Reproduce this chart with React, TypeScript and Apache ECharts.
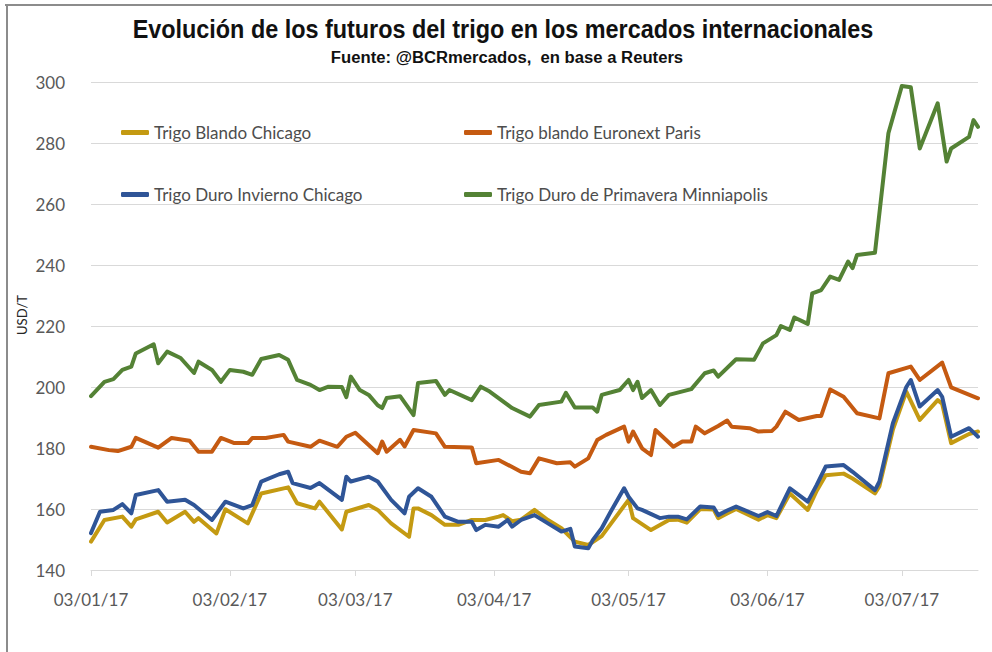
import { useEffect, useRef } from 'react';
import * as echarts from 'echarts';

// ---- Data ----
const titleText = 'Evolución de los futuros del trigo en los mercados internacionales';
const subtitleText = 'Fuente: @BCRmercados,  en base a Reuters';
const yAxisName = 'USD/T';

const tickLabels = ['03/01/17', '03/02/17', '03/03/17', '03/04/17', '03/05/17', '03/06/17', '03/07/17'];
const firstDate = '03/01/17';
const lastDate = '20/07/17';

const seriesNames = [
  'Trigo Blando Chicago',
  'Trigo blando Euronext Paris',
  'Trigo Duro Invierno Chicago',
  'Trigo Duro de Primavera Minniapolis',
];

// days counted from 03/01/17
const blandoChicagoDays = [0, 3, 7, 9, 10, 15, 17, 21, 23, 24, 28, 30, 35, 38, 44, 46, 50, 51, 56, 57, 62, 64, 67, 71, 72, 73, 76, 79, 82, 85, 88, 91, 92, 94, 96, 99, 102, 105, 108, 111, 114, 120, 121, 125, 129, 131, 133, 136, 139, 140, 142, 144, 149, 151, 153, 156, 160, 162, 164, 168, 170, 175, 176, 179, 182, 185, 189, 190, 192, 196, 198];
const blandoChicagoValues = [149.3, 156.4, 157.5, 154.2, 156.6, 159.1, 155.6, 159.1, 155.8, 157, 152, 159.9, 155.3, 165.1, 167.1, 161.9, 160.2, 162.4, 153.3, 159.1, 161.3, 159.7, 155.3, 150.9, 160.2, 160.2, 158, 154.8, 154.8, 156.4, 156.4, 157.5, 158, 156, 156.5, 159.7, 156.4, 153.7, 149.3, 148.2, 151.1, 163, 157, 153.1, 156.4, 156.5, 155.5, 160, 159.8, 157, 158.5, 160, 156.5, 158, 157, 165.1, 159.7, 166, 171.1, 171.6, 170, 165.1, 167.5, 186, 198.5, 189.2, 195.7, 194.5, 181.6, 184.6, 185.4];

const euronextDays = [0, 4, 6, 9, 10, 15, 18, 22, 24, 27, 29, 32, 35, 36, 39, 43, 44, 49, 51, 55, 57, 59, 64, 65, 66, 69, 70, 72, 77, 79, 85, 86, 91, 96, 98, 100, 104, 107, 108, 111, 113, 115, 119, 120, 121, 123, 125, 126, 130, 132, 134, 135, 137, 140, 142, 143, 147, 149, 152, 153, 155, 158, 162, 163, 165, 168, 171, 176, 178, 183, 185, 190, 192, 198];
const euronextValues = [180.4, 179.3, 179, 180.4, 183.3, 180.1, 183.3, 182.4, 178.8, 178.8, 183.3, 181.6, 181.6, 183.3, 183.3, 184.3, 182.1, 180.4, 182.4, 180.4, 183.7, 185, 178.3, 182.1, 178.8, 182.7, 180.5, 185.9, 184.8, 180.4, 180.2, 175, 176.1, 172.2, 171.7, 176.6, 175, 175.3, 173.9, 176.6, 182.6, 184.3, 187, 182.1, 185.4, 179.9, 177.7, 185.9, 180.4, 182.1, 182.1, 187, 184.8, 187.2, 189, 187, 186.5, 185.4, 185.6, 187, 191.9, 189.2, 190.5, 190.5, 199.2, 196.8, 191.4, 189.7, 204.5, 206.7, 202.3, 208, 199.9, 196.3];

const duroInviernoDays = [0, 2, 5, 7, 9, 10, 15, 17, 21, 23, 27, 30, 34, 36, 38, 42, 44, 45, 49, 51, 56, 57, 58, 62, 64, 67, 70, 71, 73, 76, 79, 82, 85, 86, 88, 91, 93, 94, 96, 99, 102, 105, 107, 108, 111, 112, 114, 116, 119, 120, 122, 123, 127, 129, 131, 133, 136, 139, 140, 142, 144, 149, 151, 153, 156, 160, 162, 164, 168, 170, 175, 176, 179, 182, 183, 185, 189, 190, 192, 196, 198];
const duroInviernoValues = [152.1, 159.1, 159.7, 161.6, 158.6, 164.6, 166.2, 162.4, 163, 161.3, 156.4, 162.4, 160.2, 161.3, 169, 171.4, 172.2, 168.5, 166.9, 168.5, 163, 170.6, 169, 170.6, 169, 163, 158.6, 164, 166.8, 164, 157.5, 155.8, 155.8, 153.1, 154.8, 154.2, 156.4, 154.2, 156.4, 158, 155.3, 152.6, 153.5, 147.7, 147.1, 149.8, 153.7, 159.1, 166.8, 164, 160.2, 159.7, 157, 157.5, 157.5, 156.6, 160.8, 160.5, 158, 159.5, 160.8, 157.7, 159, 157.7, 166.8, 162.4, 167.9, 173.9, 174.4, 172.2, 166.2, 169, 188.1, 200, 202.3, 193.6, 199, 196.8, 183.7, 186.5, 183.7];

const minneapolisDays = [0, 3, 5, 7, 9, 10, 14, 15, 17, 20, 23, 24, 27, 29, 31, 34, 36, 38, 42, 44, 46, 49, 51, 53, 56, 57, 58, 60, 62, 64, 65, 66, 69, 72, 73, 77, 79, 80, 85, 87, 89, 94, 98, 100, 105, 106, 108, 112, 113, 114, 118, 120, 121, 122, 123, 125, 127, 129, 134, 137, 139, 140, 144, 148, 150, 153, 154, 156, 157, 160, 161, 163, 165, 167, 169, 170, 171, 175, 178, 181, 183, 185, 189, 191, 192, 196, 197, 198];
const minneapolisValues = [197, 201.7, 202.6, 205.6, 206.7, 211, 214, 207.8, 211.6, 209.5, 204.6, 208.3, 205.6, 201.7, 205.6, 205, 204, 209.2, 210.5, 208.9, 202.3, 200.7, 199, 200.1, 200, 196.7, 203.4, 199, 197.4, 194, 193.1, 196.4, 197, 190.8, 201.3, 202, 197.4, 199, 195.7, 200.1, 198.5, 193.1, 190.3, 194.1, 195.2, 198.1, 193.3, 193.3, 191.9, 197.4, 199, 202.3, 199, 201.7, 196.4, 199, 194.1, 197.4, 199.3, 204.5, 205.4, 203.4, 209.1, 208.9, 214.3, 217, 220, 218.7, 222.8, 220.7, 230.7, 231.8, 236.2, 235.1, 241.1, 239, 243.3, 244, 283.2, 298.7, 298.3, 278.2, 293, 273.9, 278.2, 282, 287.5, 285.3];

const seriesColors = ['#C49A12', '#C55A11', '#2F5597', '#548235'];

// ---- helpers ----
const DAY = 86400000;
function parseLabel(s: string): number {
  const [d, m, y] = s.split('/').map(Number);
  return Date.UTC(2000 + y, m - 1, d);
}
const t0 = parseLabel(firstDate);
const tEnd = parseLabel(lastDate);
const tickValues = tickLabels.map(parseLabel);
function pairs(days: number[], vals: number[]) {
  return days.map((d, i) => [t0 + d * DAY, vals[i]]);
}
function pad(n: number) {
  return n < 10 ? '0' + n : '' + n;
}
function fmt(v: number) {
  const dt = new Date(v);
  return pad(dt.getUTCDate()) + '/' + pad(dt.getUTCMonth() + 1) + '/' + pad(dt.getUTCFullYear() % 100);
}

const LABEL_FONT = "Lato, 'Open Sans', sans-serif";
const TITLE_FONT = "'Liberation Sans', Arial, sans-serif";

export default function App() {
  const ref = useRef<HTMLDivElement>(null);
  useEffect(() => {
    if (!ref.current) return;
    const chart = echarts.init(ref.current, null, { renderer: 'svg' });
    const allData = [
      pairs(blandoChicagoDays, blandoChicagoValues),
      pairs(euronextDays, euronextValues),
      pairs(duroInviernoDays, duroInviernoValues),
      pairs(minneapolisDays, minneapolisValues),
    ];
    const legendPos = [
      { left: 121, top: 124 },
      { left: 464, top: 124 },
      { left: 121, top: 186 },
      { left: 464, top: 186 },
    ];
    chart.setOption({
      animation: false,
      backgroundColor: '#ffffff',
      grid: { left: 91, right: 14, top: 82, bottom: 82, containLabel: false },
      legend: seriesNames.map((n, i) => ({
        data: [{ name: n, icon: 'roundRect' }],
        left: legendPos[i].left,
        top: legendPos[i].top,
        padding: 0,
        itemWidth: 28,
        itemHeight: 5,
        selectedMode: false,
        textStyle: { color: '#4d4d4d', fontSize: 17, fontFamily: LABEL_FONT },
      })),
      xAxis: {
        type: 'value',
        min: t0,
        max: tEnd,
        axisLine: { show: true, lineStyle: { color: '#d9d9d9', width: 1 } },
        axisTick: { show: true, customValues: tickValues, length: 6, lineStyle: { color: '#d9d9d9' } },
        axisLabel: {
          customValues: tickValues,
          formatter: (v: number) => fmt(v),
          color: '#595959',
          fontSize: 17,
          fontFamily: LABEL_FONT,
          margin: 21,
          hideOverlap: false,
        },
        splitLine: { show: false },
      },
      yAxis: {
        type: 'value',
        min: 140,
        max: 300,
        interval: 20,
        axisLine: { show: false },
        axisTick: { show: false },
        axisLabel: { color: '#595959', fontSize: 17, fontFamily: LABEL_FONT, margin: 26 },
        splitLine: { lineStyle: { color: '#d9d9d9', width: 1 } },
      },
      series: seriesNames.map((n, i) => ({
        name: n,
        type: 'line',
        data: allData[i],
        symbol: 'none',
        connectNulls: true,
        lineStyle: { color: seriesColors[i], width: 4, join: 'round', cap: 'round' },
        itemStyle: { color: seriesColors[i] },
      })),
      graphic: [
        { type: 'line', shape: { x1: 5, y1: 5, x2: 992, y2: 5 }, style: { stroke: '#8c8c8c', lineWidth: 2 } },
        { type: 'line', shape: { x1: 7, y1: 5, x2: 7, y2: 652 }, style: { stroke: '#8c8c8c', lineWidth: 2 } },
        {
          type: 'text',
          x: 503,
          y: 29,
          scaleX: 0.9,
          style: {
            text: titleText,
            fontFamily: TITLE_FONT,
            fontWeight: 'bold',
            fontSize: 26,
            fill: '#111111',
            align: 'center',
            verticalAlign: 'middle',
          },
        },
        {
          type: 'text',
          x: 507,
          y: 57,
          scaleX: 0.98,
          style: {
            text: subtitleText,
            fontFamily: TITLE_FONT,
            fontWeight: 'bold',
            fontSize: 17,
            fill: '#111111',
            align: 'center',
            verticalAlign: 'middle',
          },
        },
        {
          type: 'text',
          x: 22,
          y: 315,
          rotation: Math.PI / 2,
          style: {
            text: yAxisName,
            fontFamily: LABEL_FONT,
            fontSize: 13,
            fill: '#262626',
            align: 'center',
            verticalAlign: 'middle',
          },
        },
      ],
    });
    return () => chart.dispose();
  }, []);
  return (
    <div
      ref={ref}
      style={{ position: 'fixed', left: 0, top: 0, width: 992, height: 652, background: '#fff' }}
    />
  );
}
